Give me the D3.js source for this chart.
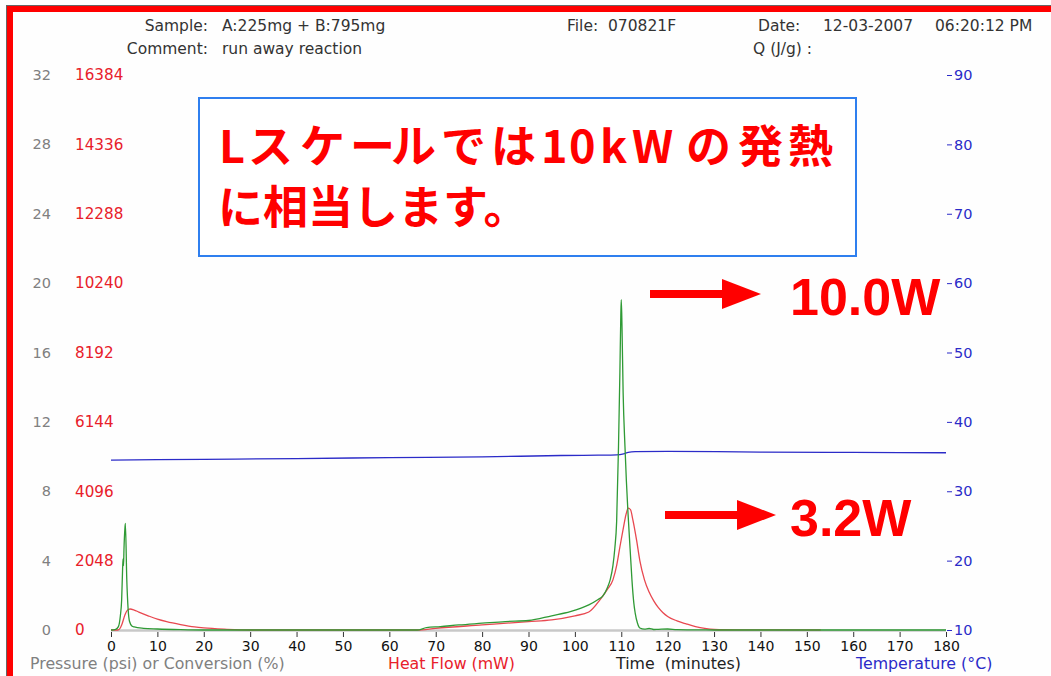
<!DOCTYPE html>
<html><head><meta charset="utf-8">
<script src="https://cdn.jsdelivr.net/npm/d3@7"></script>
<style>html,body{margin:0;padding:0;background:#fff;}svg{display:block;}</style>
</head><body>
<svg id="chart" width="1051" height="676"></svg>
<script>
// ---- data ----
const greenTime = [0,1,1.6,2,2.3,2.5,2.6,2.7,2.8,3.0,3.1,3.4,3.7,4.0,4.5,5,7,10,15,20,66,68,71,75,80,85,90,95,99,103,105,106,107,107.6,108.2,108.6,109,109.4,109.7,109.9,110,110.15,110.4,110.8,111.1,111.45,111.9,112.3,112.7,113,113.5,114,115,116,117,118,120,122,125,130,180];
const greenFlow = [0,20,100,400,900,1800,2100,1900,2400,3000,3150,1500,600,250,120,90,50,30,10,0,0,70,100,150,200,250,280,420,540,740,900,1000,1250,1480,1900,2400,3200,5400,7600,9300,9750,9000,7000,5400,4400,3450,2400,1480,800,500,200,60,25,45,15,20,30,10,5,0,0];
const redTime = [0,1.5,2,2.3,3,3.5,4.1,5,6,8,10,12,15,18,20,25,28,30,66,70,80,90,95,100,103,105.4,107,108.2,109,109.7,110.5,111,111.5,112,112.5,113.3,114,115,116,117,118,119,120,122,124,126,128,130,135,153];
const redFlow = [0,0,60,148,443,580,620,590,530,420,320,246,160,90,60,20,5,0,0,50,150,250,300,420,530,890,1200,1480,1900,2450,3050,3400,3600,3550,3250,2650,2050,1480,1120,860,660,510,400,270,180,100,45,15,5,0];
const tempTime = [0,20,40,60,80,97,105,109,110.5,111.5,113,120,140,160,180];
const tempValue = [34.5,34.6,34.7,34.85,34.95,35.15,35.2,35.25,35.4,35.6,35.7,35.75,35.65,35.6,35.55];
const timeTicks = [0,10,20,30,40,50,60,70,80,90,100,110,120,130,140,150,160,170,180];
const pressureTicks = [0,4,8,12,16,20,24,28,32];
const heatTicks = [0,2048,4096,6144,8192,10240,12288,14336,16384];
const tempTicks = [10,20,30,40,50,60,70,80,90];
const headerTexts = [
  ["Sample:", 208, 31, "end"], ["A:225mg + B:795mg", 222, 31, "start"],
  ["Comment:", 208, 54, "end"], ["run away reaction", 222, 54, "start"],
  ["File:  070821F", 567, 31, "start"],
  ["Date:", 758, 31, "start"], ["12-03-2007", 823, 31, "start"], ["06:20:12 PM", 935, 31, "start"],
  ["Q (J/g) :", 753, 54, "start"]
];
const noteLines = ["Lスケールでは10kWの発熱", "に相当します。"];
const peakLabels = [["10.0W", 9750], ["3.2W", 3600]];

// ---- layout ----
const svg = d3.select("#chart");
const W = 1051, H = 676;
const x = d3.scaleLinear().domain([0,180]).range([111,946]);
const yHeat = d3.scaleLinear().domain([0,16384]).range([630,75]);
const yPress = d3.scaleLinear().domain([0,32]).range([630,75]);
const yTemp = d3.scaleLinear().domain([10,90]).range([630,75]);
const RED = "#e8202a", GREEN = "#2f9a35", BLUE = "#2b2bc8", LRED = "#e84850";

svg.append("rect").attr("width",W).attr("height",H).attr("fill","#fefefe");
// red frame
svg.append("rect").attr("x",6).attr("y",5).attr("width",W-6).attr("height",1).attr("fill","#666");
svg.append("rect").attr("x",6).attr("y",5).attr("width",1).attr("height",H-5).attr("fill","#666");
svg.append("rect").attr("x",7).attr("y",6).attr("width",W-7).attr("height",6).attr("fill","#ff0000");
svg.append("rect").attr("x",7).attr("y",6).attr("width",6).attr("height",H-6).attr("fill","#ff0000");

// header
svg.selectAll("text.hdr").data(headerTexts).join("text").attr("class","hdr")
  .attr("x",d=>d[1]).attr("y",d=>d[2]).attr("text-anchor",d=>d[3])
  .attr("font-family","DejaVu Sans").attr("font-size",15.5).attr("fill","#333")
  .attr("xml:space","preserve").style("white-space","pre")
  .text(d=>d[0]);

// baseline
svg.append("line").attr("x1",x(0)).attr("x2",x(180)).attr("y1",630.5).attr("y2",630.5)
  .attr("stroke","#c8c8c8").attr("stroke-width",2.5);

// bottom axis
const xAxis = d3.axisBottom(x).tickValues(timeTicks).tickSize(5).tickPadding(4).tickFormat(d3.format("d"));
const gx = svg.append("g").attr("transform","translate(0,632)").call(xAxis);
gx.select(".domain").remove();
gx.selectAll(".tick line").attr("stroke","#333");
gx.selectAll("text").attr("font-family","DejaVu Sans").attr("font-size",14).attr("fill","#111");

// left labels
svg.selectAll("text.press").data(pressureTicks).join("text").attr("class","press")
  .attr("x",51).attr("y",d=>yPress(d)).attr("dy","0.35em").attr("text-anchor","end")
  .attr("font-family","DejaVu Sans").attr("font-size",14.5).attr("fill","#808080").text(d=>d);
svg.selectAll("text.heat").data(heatTicks).join("text").attr("class","heat")
  .attr("x",75).attr("y",d=>yHeat(d)).attr("dy","0.35em")
  .attr("font-family","DejaVu Sans").attr("font-size",15.2).attr("fill",RED).text(d=>d);

// right axis
const yAxisR = d3.axisRight(yTemp).tickValues(tempTicks).tickSize(5).tickPadding(2);
const gr = svg.append("g").attr("transform","translate(947,0)").call(yAxisR);
gr.select(".domain").remove();
gr.selectAll(".tick line").attr("stroke",BLUE);
gr.selectAll("text").attr("font-family","DejaVu Sans").attr("font-size",14.5).attr("fill",BLUE);

// axis titles
const titles = [["Pressure (psi) or Conversion (%)",30,"#808080"],["Heat Flow (mW)",388,RED],["Time  (minutes)",616,"#222"],["Temperature (°C)",856,BLUE]];
svg.selectAll("text.ttl").data(titles).join("text").attr("class","ttl")
  .attr("x",d=>d[1]).attr("y",669).attr("font-family","DejaVu Sans").attr("font-size",15.8)
  .attr("fill",d=>d[2]).attr("xml:space","preserve").style("white-space","pre").text(d=>d[0]);

// lines
const lineH = (ts) => d3.line().x((d,i)=>x(ts[i])).y(d=>yHeat(d)).curve(d3.curveMonotoneX);
svg.append("path").datum(tempValue)
  .attr("d", d3.line().x((d,i)=>x(tempTime[i])).y(d=>yTemp(d)).curve(d3.curveMonotoneX))
  .attr("fill","none").attr("stroke",BLUE).attr("stroke-width",1.3);
svg.append("path").datum(redFlow).attr("d",lineH(redTime))
  .attr("fill","none").attr("stroke",LRED).attr("stroke-width",1.3);
svg.append("path").datum(greenFlow).attr("d",lineH(greenTime))
  .attr("fill","none").attr("stroke",GREEN).attr("stroke-width",1.3);

// note box
svg.append("rect").attr("x",199).attr("y",98).attr("width",657).attr("height",158)
  .attr("fill","#fff").attr("stroke","#2f7fef").attr("stroke-width",2);
const line1X = [219,248,300,350,391,441,491,541,569,600,632,686,738,788];
svg.append("text").attr("class","note")
  .attr("x",line1X.join(" ")).attr("y",163)
  .attr("font-family","Noto Sans CJK JP").attr("font-weight","bold").attr("font-size",45)
  .attr("fill","#ff0000").text(noteLines[0]);
svg.append("text").attr("class","note")
  .attr("x",218).attr("y",224)
  .attr("font-family","Noto Sans CJK JP").attr("font-weight","bold").attr("font-size",45)
  .attr("fill","#ff0000").text(noteLines[1]);

// arrows + labels
const arrowY = [294, 515];
const arrowX0 = [650, 665];
peakLabels.forEach((p,i)=>{
  const y = arrowY[i], x0 = arrowX0[i];
  svg.append("rect").attr("x",x0).attr("y",y-4).attr("width",78).attr("height",8).attr("fill","#ff0000");
  svg.append("path").attr("d",`M${x0+72},${y-15} L${x0+111},${y} L${x0+72},${y+15} Z`).attr("fill","#ff0000");
  svg.append("text").attr("x",790).attr("y",y+21).attr("font-family","Liberation Sans")
    .attr("font-weight","bold").attr("font-size",52).attr("fill","#ff0000").text(p[0]);
});
</script>
</body></html>
